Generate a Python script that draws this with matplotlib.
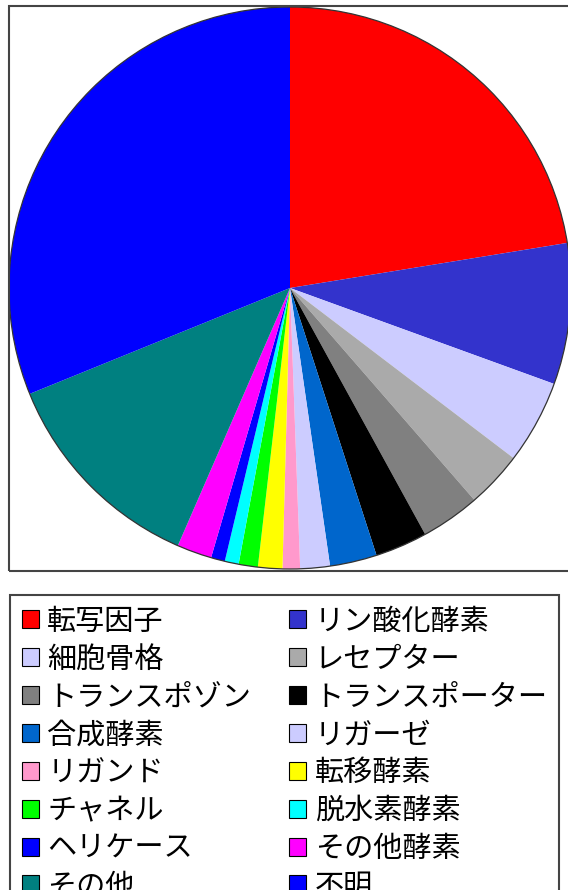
import matplotlib
matplotlib.use("Agg")
import matplotlib.pyplot as plt
from matplotlib.patches import Rectangle, Circle, Patch

plt.rcParams['font.family'] = ['Noto Sans CJK JP', 'DejaVu Sans']

labels = ["転写因子", "リン酸化酵素", "細胞骨格", "レセプター", "トランスポゾン",
          "トランスポーター", "合成酵素", "リガーゼ", "リガンド", "転移酵素",
          "チャネル", "脱水素酵素", "ヘリケース", "その他酵素", "その他", "不明"]
shares = [22.4, 8.1, 4.8, 3.25, 3.4, 3.0, 2.7, 1.7, 1.0, 1.4,
          1.1, 0.8, 0.8, 2.0, 12.3, 31.1]
colors = ["#FF0000", "#3333CC", "#CCCCFF", "#AAAAAA", "#808080",
          "#000000", "#0066CC", "#CCCCFF", "#FF99CC", "#FFFF00",
          "#00FF00", "#00FFFF", "#0000FF", "#FF00FF", "#008080", "#0000FF"]

W, H = 568, 890
fig = plt.figure(figsize=(W / 100, H / 100), dpi=100)
ax = fig.add_axes([0, 0, 1, 1])

# pie, in pixel coordinates (y measured upward)
cx, cy, r = 290, H - 288, 281
wedges, _ = ax.pie(shares, colors=colors, startangle=90, counterclock=False,
                   center=(cx, cy), radius=r, frame=True,
                   wedgeprops=dict(linewidth=0))
ax.add_patch(Circle((cx, cy), r, fill=False, edgecolor="#333333", lw=0.9))

ax.set_xlim(0, W)
ax.set_ylim(0, H)
ax.set_aspect("auto")
ax.axis("off")

# box around the pie
ax.add_patch(Rectangle((9, H - 571), 580, 565, fill=False,
                       edgecolor="#444444", lw=1.5))

# legend, row by row in two columns
order = [i for i in range(0, 16, 2)] + [i for i in range(1, 16, 2)]
handles = [Patch(facecolor=colors[i], edgecolor="black", lw=0.8) for i in order]
leg = ax.legend(handles, [labels[i] for i in order], ncol=2,
                loc="upper left", bbox_to_anchor=(10, H - 595),
                bbox_transform=ax.transData, borderaxespad=0,
                fontsize=21, handlelength=0.58, handleheight=0.58,
                handletextpad=0.3, columnspacing=1.3, labelspacing=0.27,
                borderpad=0.4, fancybox=False, framealpha=1,
                edgecolor="#444444")
leg.get_frame().set_linewidth(1.5)

fig.savefig("out.png", dpi=100)
